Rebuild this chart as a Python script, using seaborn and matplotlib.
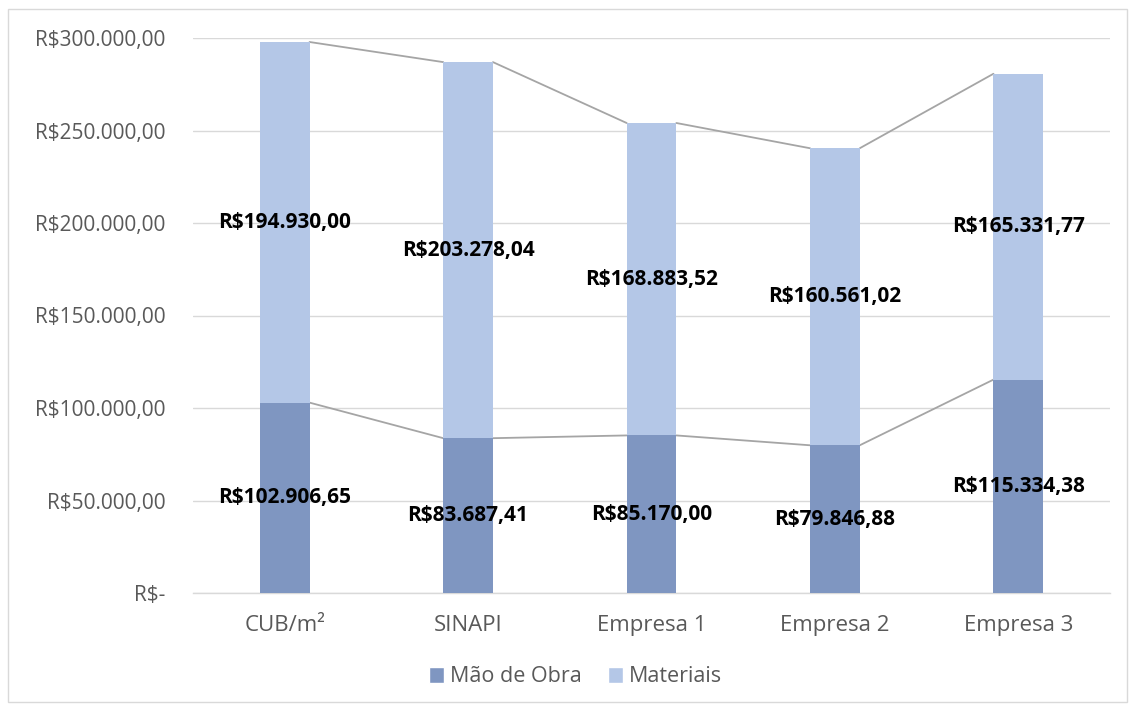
import matplotlib
matplotlib.use("Agg")
import matplotlib.pyplot as plt
import seaborn as sns
import pandas as pd
from matplotlib.patches import Patch, Rectangle
from matplotlib.ticker import FuncFormatter

categories = ["CUB/m²", "SINAPI", "Empresa 1", "Empresa 2", "Empresa 3"]
mao_de_obra = [102906.65, 83687.41, 85170.00, 79846.88, 115334.38]
materiais = [194930.00, 203278.04, 168883.52, 160561.02, 165331.77]

COL_MAO = "#7F96C1"
COL_MAT = "#B4C7E7"
TXT = "#595959"

sns.set_style("white")
plt.rcParams['font.family'] = ['Open Sans', 'DejaVu Sans']

df = pd.DataFrame({"cat": categories, "mao": mao_de_obra, "mat": materiais})
df["total"] = df["mao"] + df["mat"]

fig = plt.figure(figsize=(11.35, 7.11), dpi=100)
ax = fig.add_axes([193/1135, 118/711, (1110-193)/1135, (593-38)/711])

sns.barplot(data=df, x="cat", y="total", color=COL_MAT, saturation=1, width=0.271,
            ax=ax, zorder=3, linewidth=0, edgecolor="none")
sns.barplot(data=df, x="cat", y="mao", color=COL_MAO, saturation=1, width=0.271,
            ax=ax, zorder=3, linewidth=0, edgecolor="none")

ax.set_ylim(0, 300000)
ax.set_xlim(-0.5, len(categories) - 0.5)
ax.set_yticks(range(0, 300001, 50000))

def fmt(v, pos=None):
    if v == 0:
        return "R$-"
    s = f"{v:,.2f}"
    s = s.replace(",", "X").replace(".", ",").replace("X", ".")
    return "R$" + s

ax.yaxis.set_major_formatter(FuncFormatter(fmt))
ax.grid(axis="y", color="#D9D9D9", linewidth=1.0, zorder=0)
for s in ["top", "right", "left"]:
    ax.spines[s].set_visible(False)
ax.spines["bottom"].set_color("#D9D9D9")
ax.spines["bottom"].set_linewidth(1.0)
ax.tick_params(axis="both", length=0, colors=TXT)
ax.tick_params(axis="y", pad=20, labelsize=15)
ax.tick_params(axis="x", pad=16, labelsize=16)
ax.set_xlabel("")
ax.set_ylabel("")

n = len(categories)
total_bars = ax.patches[:n]
mao_bars = ax.patches[n:2*n]

# series lines
for bars in (mao_bars, total_bars):
    for a, b in zip(bars[:-1], bars[1:]):
        ax.plot([a.get_x() + a.get_width(), b.get_x()],
                [a.get_height(), b.get_height()],
                color="#A5A5A5", linewidth=1.3, zorder=2)

# labels
for i in range(n):
    m = mao_de_obra[i]
    t = materiais[i]
    xc = mao_bars[i].get_x() + mao_bars[i].get_width() / 2
    ax.text(xc, m / 2, fmt(m), ha="center", va="center", fontsize=15,
            fontweight="bold", color="black", zorder=5)
    ax.text(xc, m + t / 2, fmt(t), ha="center", va="center", fontsize=15,
            fontweight="bold", color="black", zorder=5)

handles = [Patch(facecolor=COL_MAO, label="Mão de Obra"),
           Patch(facecolor=COL_MAT, label="Materiais")]
leg = fig.legend(handles=handles, loc="center", bbox_to_anchor=(0.5 + 8/1135, 34/711),
                 ncol=2, frameon=False, fontsize=15.5, handlelength=0.7,
                 handleheight=0.7, handletextpad=0.3, columnspacing=1.2)
for t in leg.get_texts():
    t.set_color(TXT)

fig.patches.append(Rectangle((8/1135, 9/711), (1127-8)/1135, (702-9)/711,
                             transform=fig.transFigure, fill=False,
                             edgecolor="#D9D9D9", linewidth=1.0))

fig.savefig("out.png", dpi=100)
